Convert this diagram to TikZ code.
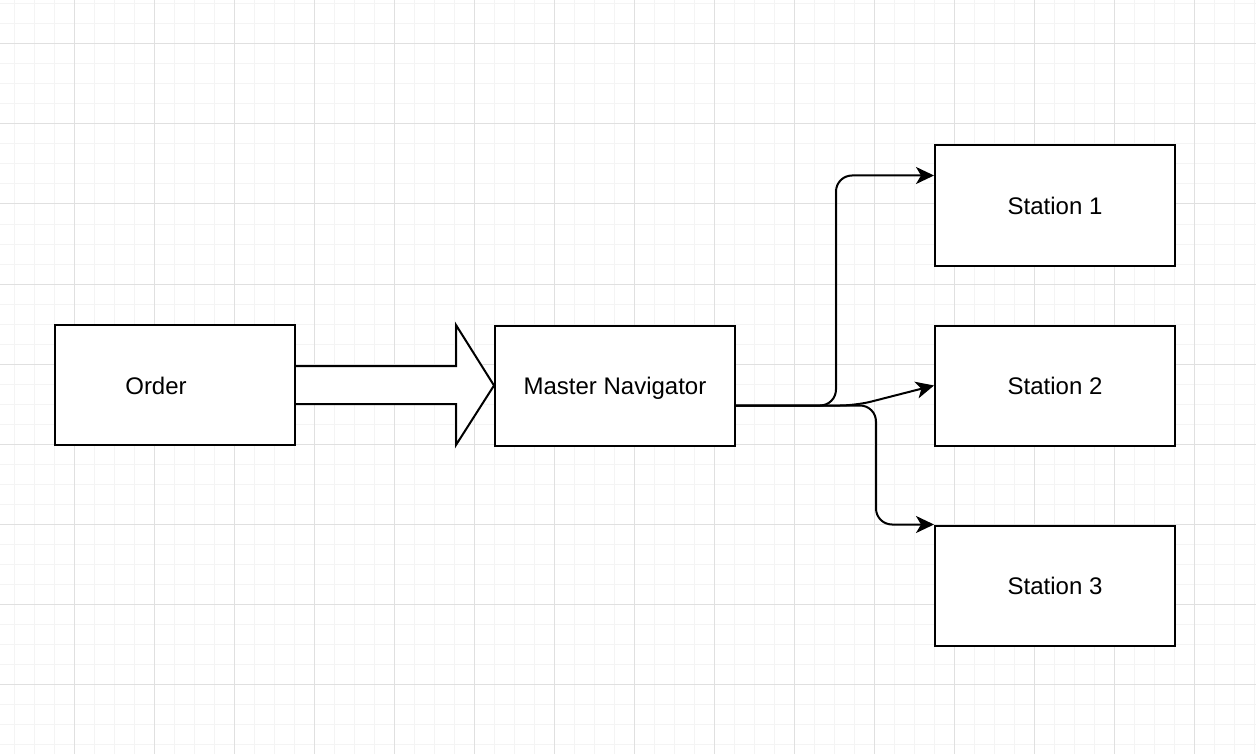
\documentclass[tikz,border=0pt]{standalone}
\usepackage{fontspec}
\setmainfont{Liberation Sans}
\usetikzlibrary{arrows.meta,calc}
\definecolor{gridminor}{HTML}{F4F4F4}
\definecolor{gridmajor}{HTML}{E0E0E0}
\tikzset{
  box/.style={draw=black, line width=1pt, fill=white, minimum width=120pt, minimum height=60pt, inner sep=0pt},
  lbl/.style={font=\fontsize{12pt}{14pt}\selectfont, inner sep=0pt, text height=8.6pt, text depth=0pt},
  conn/.style={draw=black, line width=1pt, rounded corners=8pt, -{Stealth[length=9pt,width=8.5pt,inset=2.5pt]}},
  bigarrow/.style={draw=black, line width=1pt, fill=white, line join=miter},
}
\begin{document}
\begin{tikzpicture}[x=0.5pt,y=-0.5pt]
\useasboundingbox (0,0) rectangle (1256,754);
\fill[white] (0,0) rectangle (1256,754);
% grid
\foreach \x in {14,34,...,1254} \draw[gridminor, line width=0.5pt] (\x,0) -- (\x,754);
\foreach \y in {4,24,...,754} \draw[gridminor, line width=0.5pt] (0,\y) -- (1256,\y);
\foreach \x in {74,154,...,1254} \draw[gridmajor, line width=0.5pt] (\x,0) -- (\x,754);
\foreach \y in {44,124,...,754} \draw[gridmajor, line width=0.5pt] (0,\y) -- (1256,\y);
% boxes
\node[box] (order) at (175,385) {};
\node[lbl] (ordertxt) at (156,385.5) {Order};
\node[box, lbl] (master) at (615,385.5) {Master Navigator};
\node[box, lbl] (s1) at (1055,205.5) {Station 1};
\node[box, lbl] (s2) at (1055,385.5) {Station 2};
\node[box, lbl] (s3) at (1055,585.5) {Station 3};
% big arrow from order to master
\draw[bigarrow] ($(order.east)+(0,-19)$) -- ($(order.east)+(160,-19)$) -- ($(order.east)+(160,-60)$)
  -- (master.west) -- ($(order.east)+(160,60)$) -- ($(order.east)+(160,19)$) -- ($(order.east)+(0,19)$);
% connectors
\coordinate (split) at ($(master.east)+(0,20)$);
\draw[conn] (split) -- ++(100,0) |- ($(s1.west)+(0,-30)$);
\draw[conn] (split) -- ++(120,0) -- ($(s2.west)+(0,0)$);
\draw[conn] (split) -- ++(140,0) |- (s3.north west);
\end{tikzpicture}
\end{document}
